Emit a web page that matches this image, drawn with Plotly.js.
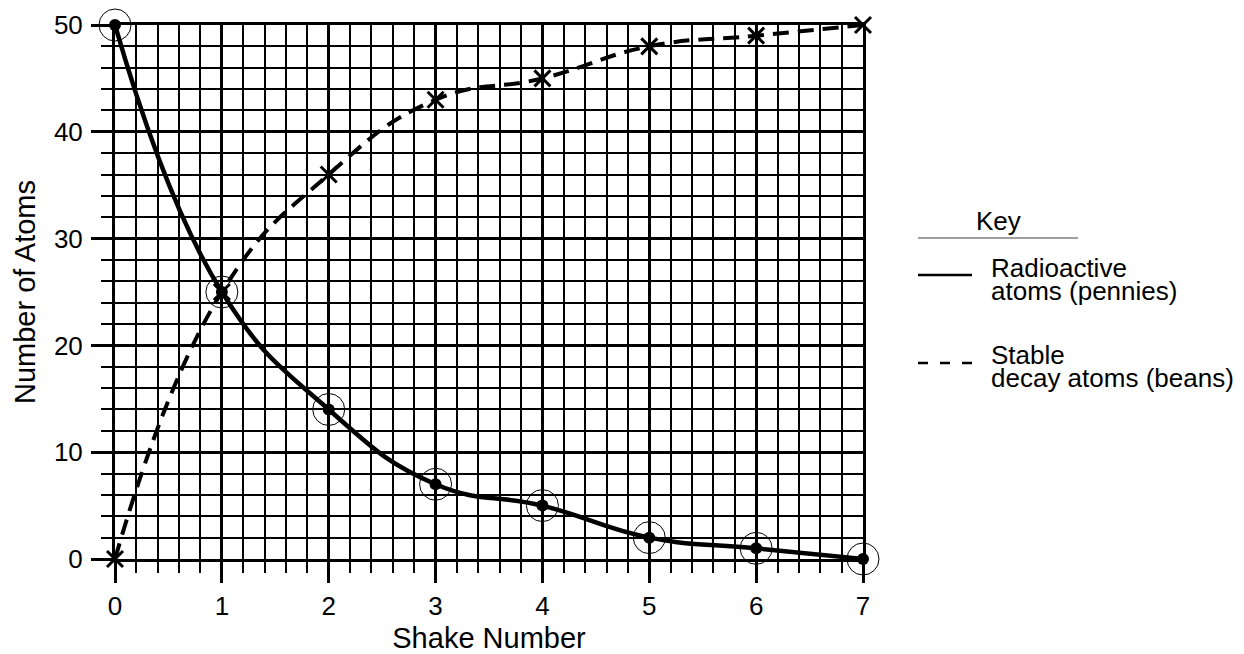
<!DOCTYPE html>
<html>
<head>
<meta charset="utf-8">
<script src="https://cdn.plot.ly/plotly-3.0.1.min.js"></script>
<style>html,body{margin:0;padding:0;background:#fff;}#chart{width:1244px;height:654px;}</style>
</head>
<body>
<div id="chart"></div>
<script>
// ---- data ----
const shakeNumbers = [0, 1, 2, 3, 4, 5, 6, 7];
const radioactiveAtoms = [50, 25, 14, 7, 5, 2, 1, 0];
const stableAtoms = [0, 25, 36, 43, 45, 48, 49, 50];
const xTickValues = [0, 1, 2, 3, 4, 5, 6, 7];
const yTickValues = [0, 10, 20, 30, 40, 50];
const xTitle = "Shake Number";
const yTitle = "Number of Atoms";
const keyTitle = "Key";
const radioactiveLabel = ["Radioactive", "atoms (pennies)"];
const stableLabel = ["Stable", "decay atoms (beans)"];

// ---- layout helpers ----
const FONT = "Liberation Sans, Arial, Helvetica, sans-serif";
const PL = 115, PR = 863, PT = 25, PB = 559;
const px = v => (v - PL) / (PR - PL);
const py = v => (PB - v) / (PB - PT);

const traces = [
  {
    x: shakeNumbers, y: stableAtoms, type: "scatter", mode: "lines+markers",
    line: {shape: "spline", smoothing: 1.3, color: "#000", width: 4, dash: "16px,9px"},
    marker: {symbol: "x-thin-open", size: 16, line: {color: "#000", width: 3}},
    cliponaxis: false, showlegend: false, hoverinfo: "skip"
  },
  {
    x: shakeNumbers, y: radioactiveAtoms, type: "scatter", mode: "lines+markers",
    line: {shape: "spline", smoothing: 1.3, color: "#000", width: 4.5},
    marker: {symbol: "circle", size: 12, color: "#000"},
    cliponaxis: false, showlegend: false, hoverinfo: "skip"
  },
  {
    x: shakeNumbers, y: radioactiveAtoms, type: "scatter", mode: "markers",
    marker: {symbol: "circle-open", size: 32, color: "#000", line: {color: "#000", width: 1}},
    cliponaxis: false, showlegend: false, hoverinfo: "skip"
  }
];

const axisCommon = {
  showline: true, mirror: true, linecolor: "#000", linewidth: 3,
  showgrid: true, gridcolor: "#000", gridwidth: 3,
  ticks: "outside", tickwidth: 3, tickcolor: "#000", ticklen: 21,
  zeroline: false, fixedrange: true, automargin: false,
  tickfont: {family: FONT, size: 26, color: "#000"}
};

const layout = {
  width: 1244, height: 654,
  margin: {l: PL, r: 1244 - PR, t: PT, b: 654 - PB, pad: 0},
  paper_bgcolor: "#fff", plot_bgcolor: "#fff",
  font: {family: FONT, color: "#000"},
  showlegend: false,
  xaxis: Object.assign({}, axisCommon, {
    range: [0, 7], tickmode: "array", tickvals: xTickValues,
    ticklabelstandoff: 1,
    minor: {dtick: 0.2, tick0: 0, showgrid: true, gridcolor: "#000", gridwidth: 2,
            ticks: "outside", ticklen: 11, tickwidth: 2, tickcolor: "#000"},
    title: {text: xTitle, font: {family: FONT, size: 29, color: "#000"}, standoff: 12}
  }),
  yaxis: Object.assign({}, axisCommon, {
    range: [0, 50], tickmode: "array", tickvals: yTickValues,
    ticklabelstandoff: 3,
    minor: {dtick: 2, tick0: 0, showgrid: true, gridcolor: "#000", gridwidth: 2,
            ticks: "outside", ticklen: 11, tickwidth: 2, tickcolor: "#000"},
    title: {text: yTitle, font: {family: FONT, size: 29, color: "#000"}, standoff: 10}
  }),
  shapes: [
    {type: "line", xref: "paper", yref: "paper", x0: px(918), x1: px(1078), y0: py(238), y1: py(238),
     line: {color: "#808080", width: 1.5}},
    {type: "line", xref: "paper", yref: "paper", x0: px(918), x1: px(972), y0: py(275), y1: py(275),
     line: {color: "#000", width: 2.5}},
    {type: "line", xref: "paper", yref: "paper", x0: px(918), x1: px(972), y0: py(363), y1: py(363),
     line: {color: "#000", width: 2.5, dash: "10px,12px"}}
  ],
  annotations: [
    {text: keyTitle, xref: "paper", yref: "paper", x: px(998), y: py(221), xanchor: "center", yanchor: "middle",
     showarrow: false, font: {family: FONT, size: 26, color: "#000"}},
    {text: radioactiveLabel[0], xref: "paper", yref: "paper", x: px(989), y: py(268), xanchor: "left", yanchor: "middle",
     showarrow: false, font: {family: FONT, size: 26, color: "#000"}},
    {text: radioactiveLabel[1], xref: "paper", yref: "paper", x: px(989), y: py(291), xanchor: "left", yanchor: "middle",
     showarrow: false, font: {family: FONT, size: 26, color: "#000"}},
    {text: stableLabel[0], xref: "paper", yref: "paper", x: px(989), y: py(355), xanchor: "left", yanchor: "middle",
     showarrow: false, font: {family: FONT, size: 26, color: "#000"}},
    {text: stableLabel[1], xref: "paper", yref: "paper", x: px(989), y: py(378), xanchor: "left", yanchor: "middle",
     showarrow: false, font: {family: FONT, size: 26, color: "#000"}}
  ]
};

Plotly.newPlot("chart", traces, layout, {displayModeBar: false, staticPlot: true});
</script>
</body>
</html>
